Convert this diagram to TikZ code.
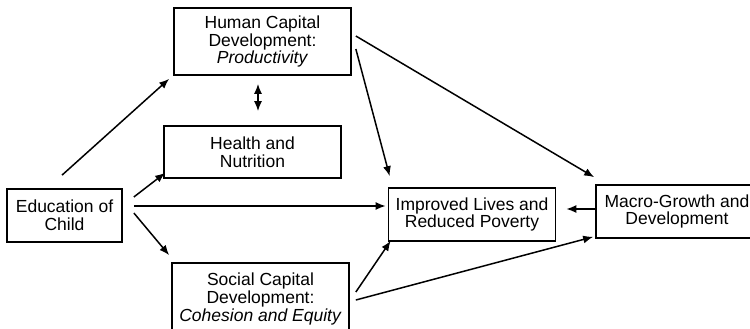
\documentclass[tikz,border=0pt]{standalone}
\usepackage{fontspec}
\setmainfont{Liberation Sans}
\usetikzlibrary{arrows.meta}
\begin{document}
\begin{tikzpicture}[x=1pt,y=-1pt,
	box/.style={draw,line width=1.7pt,align=center,inner sep=0pt,font=\fontsize{17.5}{17.7}\selectfont},
	arr/.style={line width=1.5pt,-{Latex[length=10,width=8]}}]
	\useasboundingbox (0,0) rectangle (750,329);
	\node[box,minimum width=177,minimum height=67] (human) at (262.5,41.5) {Human Capital\\Development:\\\textit{Productivity}};
	\node[box,minimum width=177,minimum height=52] (health) at (252.5,152) {Health and\\Nutrition};
	\node[box,minimum width=115,minimum height=53] (edu) at (64.5,215.5) {Education of\\Child};
	\node[box,minimum width=177,minimum height=72] (social) at (260.5,299) {Social Capital\\Development:\\\textit{Cohesion and Equity}};
	\node[box,minimum width=167,minimum height=53] (lives) at (472,214.5) {Improved Lives and\\Reduced Poverty};
	\node[box,minimum width=162,minimum height=53] (macro) at (677,211.5) {Macro-Growth and\\Development};
	\draw[arr] ([shift={(-2.5,-13)}]edu.north) -- ([shift={(-4,3)}]human.south west);
	\draw[arr,{Latex[length=10,width=8]}-{Latex[length=10,width=8]}] ([shift={(-4.5,8)}]human.south) -- ([shift={(5.5,-14)}]health.north);
	\draw[arr] ([shift={(11,-18.5)}]edu.east) -- ([shift={(2,-6)}]health.south west);
	\draw[arr] ([shift={(11,-9.5)}]edu.east) -- ([shift={(-2,-8.5)}]lives.west);
	\draw[arr] ([shift={(11,-2.5)}]edu.east) -- ([shift={(-2,-7)}]social.north west);
	\draw[arr] ([shift={(4,7.5)}]human.east) -- ([shift={(2,-11)}]lives.north west);
	\draw[arr] ([shift={(4,-5.5)}]human.east) -- ([shift={(-1,-7)}]macro.north west);
	\draw[arr] ([shift={(6,-7)}]social.east) -- ([shift={(3,-1)}]lives.south west);
	\draw[arr] ([shift={(6,1)}]social.east) -- ([shift={(-2,-2)}]macro.south west);
	\draw[arr] ([shift={(0,-2.5)}]macro.west) -- ([shift={(10,-5.5)}]lives.east);
\end{tikzpicture}
\end{document}
